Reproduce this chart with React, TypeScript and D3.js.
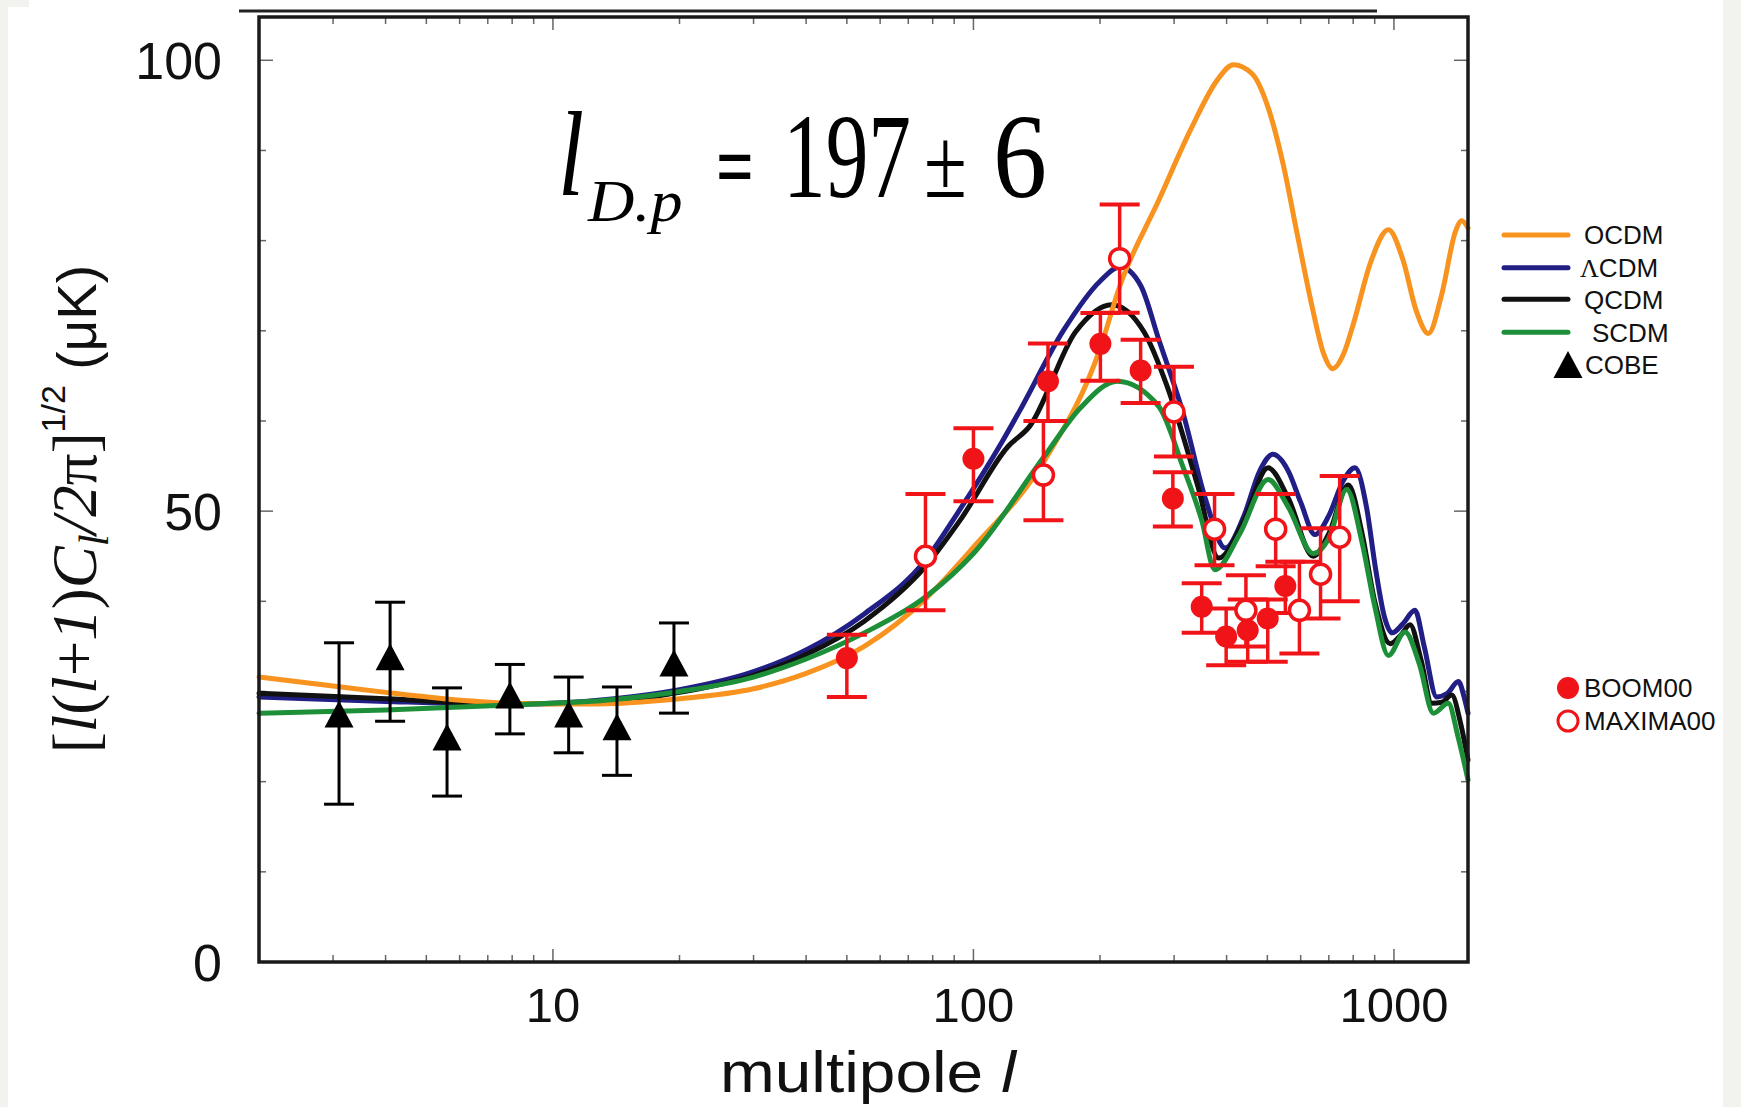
import React, { useEffect, useRef } from "react";
import * as d3 from "d3";

// model curves: multipole l -> [l(l+1)C_l/2pi]^1/2 in uK
const ocdmL = [2, 3, 4, 5.5, 8, 12, 20, 30, 40, 55, 77, 100, 147, 200, 223, 276, 330, 380, 415, 460, 500, 545, 590, 640, 680, 715, 760, 800, 880, 970, 1050, 1130, 1207, 1300, 1400, 1449, 1500];
const ocdmV = [31.6, 30.6, 29.9, 29.2, 28.7, 28.6, 29.2, 30.3, 32.0, 35.0, 40.3, 46.0, 55.5, 68.0, 75.0, 84.5, 92.5, 97.8, 99.5, 98.5, 95.0, 88.5, 80.5, 72.5, 67.5, 65.8, 67.5, 70.7, 77.6, 81.2, 77.9, 72.2, 69.7, 74.1, 81.0, 82.2, 81.4];

const lcdmL = [2, 4, 8, 14, 20, 30, 40, 55, 77, 92, 117, 128, 164, 200, 223, 250, 276, 315, 357, 397, 440, 480, 515, 560, 600, 649, 700, 760, 808, 860, 905, 950, 990, 1050, 1122, 1180, 1264, 1340, 1423, 1470, 1500];
const lcdmV = [29.4, 28.9, 28.6, 29.2, 30.2, 32.2, 34.6, 38.6, 44.6, 49.9, 57.7, 60.9, 70.1, 75.5, 77.1, 75.0, 69.0, 60.9, 51.2, 45.9, 49.5, 54.5, 56.3, 54.5, 51.0, 47.4, 49.5, 53.5, 54.8, 50.5, 43.5, 38.2, 36.5, 37.5, 39.0, 35.0, 29.4, 29.8, 31.1, 29.3, 27.6];

const qcdmL = [2, 4, 8, 14, 20, 30, 40, 55, 77, 93, 121, 136, 175, 213, 255, 289, 342, 383, 440, 502, 560, 643, 700, 779, 840, 900, 980, 1040, 1092, 1160, 1230, 1300, 1372, 1440, 1500];
const qcdmV = [29.8, 29.2, 28.6, 28.9, 29.9, 31.8, 34.1, 37.8, 43.9, 49.0, 57.2, 59.4, 69.9, 72.9, 69.8, 63.8, 52.7, 44.8, 49.0, 54.8, 51.5, 45.0, 47.5, 52.9, 47.5, 40.0, 35.3, 36.3, 37.4, 33.5, 28.7, 28.8, 29.6, 26.5, 22.4];

const scdmL = [2, 4, 8, 14, 20, 30, 40, 55, 77, 100, 147, 180, 220, 276, 315, 349, 375, 430, 502, 560, 643, 700, 772, 840, 900, 970, 1062, 1150, 1241, 1346, 1420, 1500];
const scdmV = [27.6, 27.95, 28.5, 29.1, 30.0, 31.6, 33.6, 36.5, 40.5, 45.3, 56.0, 61.5, 64.4, 61.6, 54.9, 49.0, 43.5, 47.5, 53.5, 50.5, 45.3, 47.0, 52.4, 46.5, 39.5, 34.0, 36.6, 33.0, 27.6, 28.7, 25.0, 20.2];

// COBE band powers
const cobeL = [3.1, 4.1, 5.6, 7.9, 10.9, 14.2, 19.4];
const cobeV = [27.0, 33.35, 24.45, 29.1, 27.0, 25.6, 32.65];
const cobeLo = [17.5, 26.7, 18.4, 25.3, 23.2, 20.7, 27.6];
const cobeHi = [35.4, 39.9, 30.4, 33.0, 31.6, 30.5, 37.6];

// BOOMERANG 2000
const boomL = [50, 100, 150.4, 200.4, 249.8, 298, 349, 399, 449, 501, 551.7];
const boomV = [33.7, 55.8, 64.4, 68.55, 65.6, 51.4, 39.4, 36.1, 36.8, 38.1, 41.7];
const boomLo = [29.4, 51.1, 60.0, 64.45, 62.0, 48.3, 36.5, 32.9, 33.3, 33.3, 38.7];
const boomHi = [36.3, 59.2, 68.6, 71.96, 69.0, 54.3, 42.0, 39.2, 40.2, 40.2, 44.4];

// MAXIMA 2000
const maxL = [76.9, 146.7, 222.7, 299.8, 374.4, 444.6, 523.3, 596, 669, 743];
const maxV = [45.0, 54.0, 78.0, 61.0, 48.0, 39.0, 48.0, 39.0, 43.0, 47.1];
const maxLo = [39.0, 49.0, 72.0, 56.05, 44.0, 35.0, 43.9, 34.2, 38.1, 40.0];
const maxHi = [51.9, 60.0, 84.0, 66.0, 51.9, 42.9, 51.9, 44.4, 48.1, 53.9];

const yTicks = [0, 10, 20, 30, 40, 50, 60, 70, 80, 90, 100];
const yLabels = [0, 50, 100];
const xLabels = [10, 100, 1000];

const SANS = "'Liberation Sans', Arial, Helvetica, sans-serif";
const SERIF = "'Liberation Serif', 'Times New Roman', Times, serif";
const RED = "#f01418";

const App = () => {
  const ref = useRef<SVGSVGElement>(null);

  useEffect(() => {
    const svg = d3.select(ref.current);
    svg.selectAll("*").remove();

    const x = d3.scaleLog().domain([2, 1500]).range([259, 1468]);
    const y = d3.scaleLinear().domain([0, 104.8]).range([962, 17]);
    const [x0, x1] = x.range();
    const [y0, y1] = y.range();

    // page background (scanned look: grey border strips)
    svg.append("rect").attr("width", 1741).attr("height", 1107).attr("fill", "#f2f3ee");
    svg.append("rect").attr("x", 8).attr("y", 0).attr("width", 1715).attr("height", 1107).attr("fill", "#fff");
    svg.append("rect").attr("x", 0).attr("y", 0).attr("width", 29).attr("height", 7).attr("fill", "#f2f3ee");

    // stray top rule above the frame
    svg.append("line")
      .attr("x1", 239).attr("x2", 1377).attr("y1", 11).attr("y2", 11)
      .attr("stroke", "#222").attr("stroke-width", 3);

    // ticks
    const tk = svg.append("g").attr("stroke", "#666").attr("stroke-width", 1.5);
    x.ticks().forEach(t => {
      if (t <= 2 || t >= 1500) return;
      const major = Math.abs(Math.log10(t) - Math.round(Math.log10(t))) < 1e-9;
      const len = major ? 13 : 7;
      tk.append("line").attr("x1", x(t)).attr("x2", x(t)).attr("y1", y0).attr("y2", y0 - len);
      tk.append("line").attr("x1", x(t)).attr("x2", x(t)).attr("y1", y1).attr("y2", y1 + len);
    });
    yTicks.forEach(t => {
      const len = t % 50 === 0 ? 14 : 7;
      tk.append("line").attr("x1", x0).attr("x2", x0 + len).attr("y1", y(t)).attr("y2", y(t));
      tk.append("line").attr("x1", x1).attr("x2", x1 - len).attr("y1", y(t)).attr("y2", y(t));
    });

    // model curves
    const line = d3.line<[number, number]>()
      .x(d => x(d[0]))
      .y(d => y(d[1]))
      .curve(d3.curveMonotoneX);

    const models = [
      { name: "ΛCDM", L: lcdmL, V: lcdmV, color: "#211e86" },
      { name: "QCDM", L: qcdmL, V: qcdmV, color: "#111111" },
      { name: "OCDM", L: ocdmL, V: ocdmV, color: "#f7931e" },
      { name: "SCDM", L: scdmL, V: scdmV, color: "#1c8f38" },
    ];

    svg.append("g")
      .selectAll("path")
      .data(models)
      .join("path")
        .attr("fill", "none")
        .attr("stroke", d => d.color)
        .attr("stroke-width", 5)
        .attr("stroke-linejoin", "round")
        .attr("stroke-linecap", "round")
        .attr("d", d => line(d.L.map((l, i) => [l, d.V[i]] as [number, number])));

    // error bars
    const errBars = (L: number[], lo: number[], hi: number[], color: string, cap: number, w: number, cw: number) => {
      const g = svg.append("g").attr("stroke", color);
      L.forEach((l, i) => {
        const cx = x(l);
        g.append("line").attr("x1", cx).attr("x2", cx).attr("y1", y(lo[i])).attr("y2", y(hi[i])).attr("stroke-width", w);
        [lo[i], hi[i]].forEach(v => {
          g.append("line")
            .attr("x1", cx - cap / 2).attr("x2", cx + cap / 2)
            .attr("y1", y(v)).attr("y2", y(v))
            .attr("stroke-width", cw);
        });
      });
    };

    errBars(cobeL, cobeLo, cobeHi, "#000", 30, 3, 3);
    errBars(maxL, maxLo, maxHi, RED, 40, 3.5, 4);
    errBars(boomL, boomLo, boomHi, RED, 40, 3.5, 4);

    // COBE triangles
    const tri = "M0,-18L14.5,9L-14.5,9Z";
    svg.append("g")
      .selectAll("path")
      .data(cobeL)
      .join("path")
        .attr("d", tri)
        .attr("fill", "#000")
        .attr("transform", (l, i) => `translate(${x(l)},${y(cobeV[i])})`);

    svg.append("g")
      .selectAll("circle")
      .data(maxL)
      .join("circle")
        .attr("cx", l => x(l))
        .attr("cy", (l, i) => y(maxV[i]))
        .attr("r", 10)
        .attr("fill", "#fff")
        .attr("stroke", RED)
        .attr("stroke-width", 3.5);

    svg.append("g")
      .selectAll("circle")
      .data(boomL)
      .join("circle")
        .attr("cx", l => x(l))
        .attr("cy", (l, i) => y(boomV[i]))
        .attr("r", 11)
        .attr("fill", RED);

    // frame
    svg.append("rect")
      .attr("x", x0).attr("y", y1)
      .attr("width", x1 - x0).attr("height", y0 - y1)
      .attr("fill", "none").attr("stroke", "#1a1a1a").attr("stroke-width", 3.5);

    // tick labels
    svg.append("g")
      .attr("font-family", SANS).attr("font-size", 52).attr("text-anchor", "end").attr("fill", "#111")
      .selectAll("text")
      .data(yLabels)
      .join("text")
        .attr("x", 222)
        .attr("y", d => y(d))
        .attr("dy", "0.36em")
        .text(d => d);

    svg.append("g")
      .attr("font-family", SANS).attr("font-size", 49).attr("text-anchor", "middle").attr("fill", "#111")
      .selectAll("text")
      .data(xLabels)
      .join("text")
        .attr("x", d => x(d))
        .attr("y", 1022)
        .text(d => d);

    // axis titles
    const xt = svg.append("text")
      .attr("x", 720).attr("y", 1092)
      .attr("font-family", SANS).attr("font-size", 58).attr("fill", "#111")
      .attr("textLength", 296).attr("lengthAdjust", "spacingAndGlyphs");
    xt.append("tspan").text("multipole ");
    xt.append("tspan").attr("font-style", "italic").text("l");

    const yt = svg.append("text")
      .attr("transform", "translate(96,509) rotate(-90)")
      .attr("text-anchor", "middle")
      .attr("font-family", SERIF).attr("font-size", 63).attr("fill", "#111");
    const yparts: [string, string, number, number, string][] = [
      ["[", "normal", 63, 0, SERIF],
      ["l", "italic", 63, 0, SERIF],
      ["(", "normal", 63, 0, SERIF],
      ["l", "italic", 63, 0, SERIF],
      ["+", "normal", 63, 0, SERIF],
      ["1", "italic", 63, 0, SERIF],
      [")", "normal", 63, 0, SERIF],
      ["C", "italic", 63, 0, SERIF],
      ["l", "italic", 43, 12, SERIF],
      ["/2", "italic", 63, -12, SERIF],
      ["π]", "normal", 63, 0, SERIF],
      ["1/2", "normal", 34, -31, SANS],
      [" (μK)", "normal", 55, 31, SANS],
    ];
    yparts.forEach(([t, st, fs, dy, ff]) => {
      yt.append("tspan")
        .attr("font-style", st).attr("font-size", fs).attr("dy", dy).attr("font-family", ff)
        .text(t);
    });

    // annotation l_D.p = 197 +- 6 (tall condensed serif, squeezed with a horizontal scale)
    const ann = svg.append("g").attr("font-family", SERIF).attr("fill", "#000");
    const annText = (s: string, tx: number, ty: number, size: number, sx: number, italic = false, bold = false) =>
      ann.append("text")
        .attr("transform", `translate(${tx},${ty}) scale(${sx},1)`)
        .attr("font-size", size)
        .attr("font-style", italic ? "italic" : "normal")
        .attr("font-weight", bold ? "bold" : "normal")
        .text(s);
    annText("l", 558, 195, 120, 0.78, true);
    annText("D.p", 588, 221, 60, 1.07, true);
    annText("=", 716, 197, 90, 0.74, false, true);
    annText("197", 783, 197, 120, 0.711);
    annText("±", 924, 197, 100, 0.78);
    annText("6", 993, 197, 120, 0.9);

    // legend
    const lg = svg.append("g").attr("font-family", SANS).attr("font-size", 26).attr("fill", "#111");
    const legendLines = [
      { label: "OCDM", color: "#f7931e", y: 235, tx: 1584 },
      { label: "ΛCDM", color: "#211e86", y: 267.7, tx: 1580 },
      { label: "QCDM", color: "#111111", y: 299.3, tx: 1584 },
      { label: "SCDM", color: "#1c8f38", y: 332.3, tx: 1592 },
    ];
    legendLines.forEach(d => {
      lg.append("line")
        .attr("x1", 1504).attr("x2", 1568).attr("y1", d.y).attr("y2", d.y)
        .attr("stroke", d.color).attr("stroke-width", 5).attr("stroke-linecap", "round");
      const t = lg.append("text").attr("x", d.tx).attr("y", d.y).attr("dy", "0.36em");
      if (d.label.startsWith("Λ")) {
        t.append("tspan").attr("font-family", SERIF).text("Λ");
        t.append("tspan").text(d.label.slice(1));
      } else {
        t.text(d.label);
      }
    });
    lg.append("path").attr("d", tri).attr("fill", "#000").attr("transform", "translate(1568,369)");
    lg.append("text").attr("x", 1585).attr("y", 365).attr("dy", "0.36em").text("COBE");

    lg.append("circle").attr("cx", 1568).attr("cy", 688).attr("r", 11).attr("fill", RED);
    lg.append("text").attr("x", 1584).attr("y", 688).attr("dy", "0.36em").text("BOOM00");
    lg.append("circle").attr("cx", 1568).attr("cy", 721).attr("r", 10).attr("fill", "#fff")
      .attr("stroke", RED).attr("stroke-width", 3);
    lg.append("text").attr("x", 1584).attr("y", 721).attr("dy", "0.36em").text("MAXIMA00");
  }, []);

  return <svg ref={ref} width={1741} height={1107} style={{ position: "absolute", left: 0, top: 0 }} />;
};

export default App;
